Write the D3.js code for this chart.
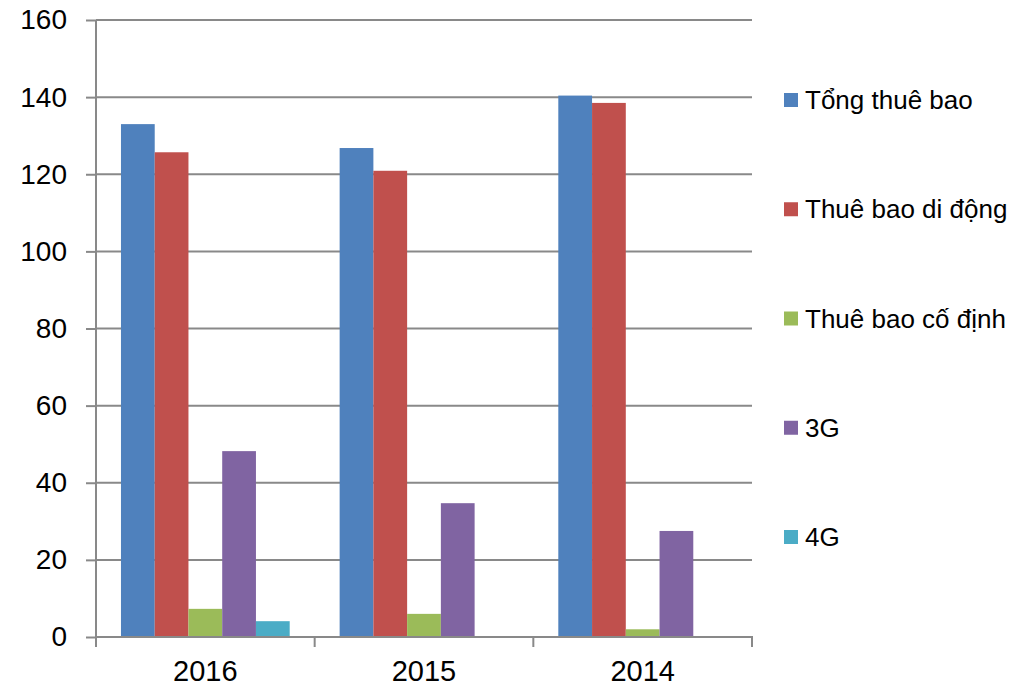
<!DOCTYPE html>
<html><head><meta charset="utf-8">
<script src="https://cdn.jsdelivr.net/npm/d3@7/dist/d3.min.js"></script>
<style>body{margin:0;background:#fff}svg{display:block}text{font-family:"Liberation Sans",Arial,sans-serif;fill:#000}</style>
</head><body>
<script>
const categories = ["2016", "2015", "2014"];
const seriesNames = ["Tổng thuê bao", "Thuê bao di động", "Thuê bao cố định", "3G", "4G"];
const seriesColors = ["#4f81bd", "#c0504d", "#9bbb59", "#8064a2", "#4bacc6"];
const tongThueBao = [133.0, 126.8, 140.4];
const thueBaoDiDong = [125.7, 120.9, 138.5];
const thueBaoCoDinh = [7.3, 6.0, 2.0];
const g3 = [48.2, 34.7, 27.5];
const g4 = [4.1, 0, 0];
const yTicks = [0, 20, 40, 60, 80, 100, 120, 140, 160];

const series = [tongThueBao, thueBaoDiDong, thueBaoCoDinh, g3, g4];
const W = 1022, H = 687;
const pL = 96, pR = 752, pT = 20, pB = 637;
const svg = d3.select("body").append("svg").attr("width", W).attr("height", H);

const x0 = d3.scaleBand().domain(categories).range([pL, pR]).paddingInner(0).paddingOuter(0);
const x1 = d3.scaleBand().domain(d3.range(series.length)).range([0, x0.bandwidth()]).paddingOuter(0.74).paddingInner(0);
const y = d3.scaleLinear().domain([0, 160]).range([pB, pT]);

const grid = "#898989";
svg.append("g").selectAll("line").data(yTicks.filter(d => d > 0)).join("line")
  .attr("x1", pL).attr("x2", pR).attr("y1", d => y(d)).attr("y2", d => y(d))
  .attr("stroke", grid).attr("stroke-width", 2);

categories.forEach((c, ci) => {
  series.forEach((s, si) => {
    if (s[ci] <= 0) return;
    svg.append("rect")
      .attr("x", x0(c) + x1(si)).attr("width", x1.bandwidth())
      .attr("y", y(s[ci])).attr("height", y(0) - y(s[ci]))
      .attr("fill", seriesColors[si]);
  });
});

const yAxis = d3.axisLeft(y).tickValues(yTicks).tickSize(10).tickPadding(19).tickFormat(d3.format("d"));
const ya = svg.append("g").attr("transform", `translate(${pL},0)`).call(yAxis);
ya.select(".domain").attr("stroke", grid).attr("stroke-width", 2).attr("d", `M0,${pT}V${pB}`);
ya.selectAll(".tick line").attr("stroke", grid).attr("stroke-width", 2);
ya.selectAll(".tick text").attr("font-size", 28).attr("fill", "#000").attr("font-family", "Liberation Sans, Arial, sans-serif");

const xa = svg.append("g").attr("transform", `translate(0,${pB})`);
xa.append("line").attr("x1", pL - 1).attr("x2", pR + 1).attr("y1", 0).attr("y2", 0).attr("stroke", grid).attr("stroke-width", 2);
const bounds = categories.map(c => x0(c)).concat([pR]);
xa.selectAll("line.tk").data(bounds).join("line").attr("class", "tk")
  .attr("x1", d => d).attr("x2", d => d).attr("y1", 0).attr("y2", 10).attr("stroke", grid).attr("stroke-width", 2);
xa.selectAll("text").data(categories).join("text")
  .attr("x", d => x0(d) + x0.bandwidth() / 2).attr("y", 44)
  .attr("text-anchor", "middle").attr("font-size", 29).text(d => d);

const legY = d3.scalePoint().domain(seriesNames).range([100, 537]);
const lg = svg.append("g");
seriesNames.forEach((n, i) => {
  lg.append("rect").attr("x", 784).attr("y", legY(n) - 7).attr("width", 14).attr("height", 14).attr("fill", seriesColors[i]);
  lg.append("text").attr("x", 805).attr("y", legY(n) + 9).attr("font-size", 26).text(n);
});
</script>
</body></html>
